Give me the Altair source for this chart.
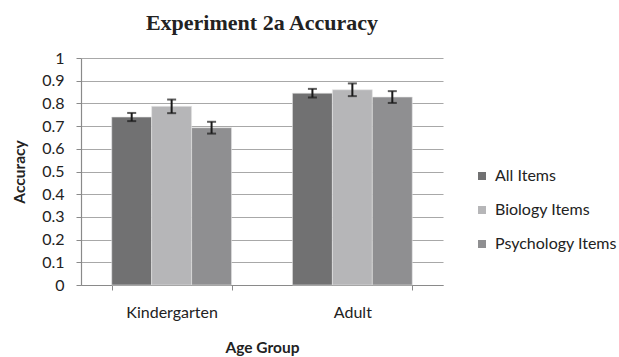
import altair as alt
import pandas as pd

groups = ["Kindergarten", "Adult"]
series = ["All Items", "Biology Items", "Psychology Items"]
values = {
    "Kindergarten": [0.740, 0.787, 0.693],
    "Adult": [0.845, 0.860, 0.828],
}
errors = {
    "Kindergarten": [0.018, 0.030, 0.026],
    "Adult": [0.019, 0.028, 0.026],
}
colors = ["#717172", "#b6b6b8", "#8f8f91"]
y_ticks = [0, 0.1, 0.2, 0.3, 0.4, 0.5, 0.6, 0.7, 0.8, 0.9, 1]

rows = []
for g in groups:
    for s, v, e in zip(series, values[g], errors[g]):
        rows.append({"group": g, "series": s, "value": v, "lo": v - e, "hi": v + e})
df = pd.DataFrame(rows)

FONT = "Lato"

x_enc = alt.X(
    "group:N",
    sort=groups,
    title="Age Group",
    scale=alt.Scale(paddingInner=0.337, paddingOuter=0.17),
    axis=alt.Axis(
        labelAngle=0,
        tickBand="extent",
        tickSize=5,
        labelPadding=14,
        titlePadding=20,
        grid=False,
    ),
)
xoff = alt.XOffset("series:N", sort=series, scale=alt.Scale(paddingInner=0, paddingOuter=0))
y_scale = alt.Scale(domain=[0, 1])
y_axis = alt.Axis(values=y_ticks, format="~g", tickSize=5, labelPadding=12, titlePadding=14)

bars = alt.Chart(df).mark_bar(stroke="#e6e6e6", strokeWidth=0.6).encode(
    x=x_enc,
    xOffset=xoff,
    y=alt.Y("value:Q", title="Accuracy", scale=y_scale, axis=y_axis),
    color=alt.Color(
        "series:N",
        sort=series,
        scale=alt.Scale(domain=series, range=colors),
        legend=alt.Legend(title=None, orient="none", legendX=393, legendY=110,
                          symbolType="square", symbolSize=64, symbolStrokeWidth=0,
                          labelFontSize=16, labelFont=FONT, labelColor="#222222",
                          rowPadding=18, labelOffset=5),
    ),
)

rules = alt.Chart(df).mark_rule(color="#1a1a1a", strokeWidth=2).encode(
    x=alt.X("group:N", sort=groups),
    xOffset=xoff,
    y=alt.Y("lo:Q", title="Accuracy", scale=y_scale, axis=y_axis),
    y2="hi:Q",
)
cap_lo = alt.Chart(df).mark_tick(color="#1a1a1a", thickness=2, size=9).encode(
    x=alt.X("group:N", sort=groups),
    xOffset=xoff,
    y=alt.Y("lo:Q", title="Accuracy", scale=y_scale, axis=y_axis),
)
cap_hi = alt.Chart(df).mark_tick(color="#1a1a1a", thickness=2, size=9).encode(
    x=alt.X("group:N", sort=groups),
    xOffset=xoff,
    y=alt.Y("hi:Q", title="Accuracy", scale=y_scale, axis=y_axis),
)

chart = (
    alt.layer(bars, rules, cap_lo, cap_hi)
    .properties(
        width=362,
        height=227,
        autosize=alt.AutoSizeParams(type="none"),
        padding={"left": 81, "top": 58, "right": 176, "bottom": 72},
        background="white",
        title=alt.TitleParams(
            "Experiment 2a Accuracy",
            font="Liberation Serif",
            fontSize=22,
            fontWeight="bold",
            color="#222222",
            anchor="middle",
            offset=15,
        ),
    )
    .configure_view(stroke=None)
    .configure_axis(
        labelFont=FONT,
        titleFont=FONT,
        labelFontSize=16,
        titleFontSize=15.5,
        titleFontWeight="bold",
        labelColor="#222222",
        titleColor="#222222",
        domainColor="#8a8a8a",
        tickColor="#8a8a8a",
        gridColor="#a8a8a8",
        gridWidth=1.2,
        domainWidth=1.2,
    )
)

chart.save("out.html", embed_options={"renderer": "svg", "actions": False})
